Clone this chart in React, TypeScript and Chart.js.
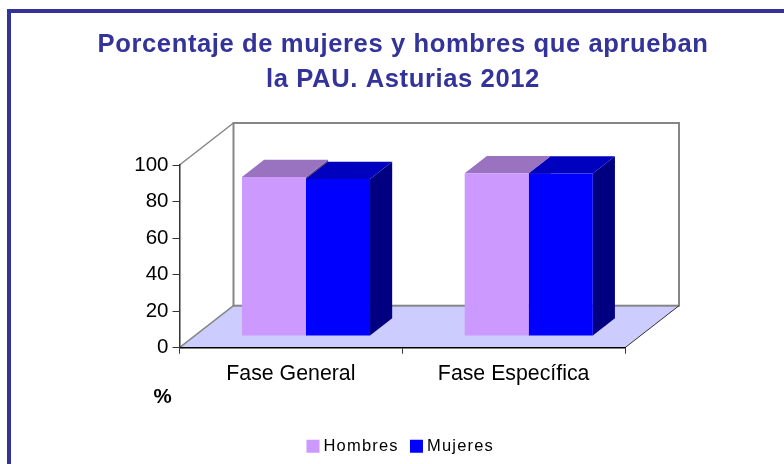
import React, { useEffect, useRef } from "react";
import { Chart, registerables } from "chart.js";

Chart.register(...registerables);

const categories = ["Fase General", "Fase Específica"];
const hombres = [87, 89];
const mujeres = [85.9, 88.9];
const titleLines = ["Porcentaje de mujeres y hombres que aprueban", "la PAU. Asturias 2012"];
const yUnit = "%";

const FONT = "'Liberation Sans', Arial, sans-serif";
const frontColors = ["#CC99FF", "#0000FF"];
const topColors = ["#9973BF", "#0000BF"];
const sideColors = ["#664C80", "#000080"];

// depth of the plot box, and where the bars stand inside it
const DEPTH_X = 54;
const DEPTH_Y = 42;
const BAR_START = 0.28;
const BAR_DEPTH = 0.41;

function poly(ctx: CanvasRenderingContext2D, pts: number[][], fill?: string) {
  ctx.beginPath();
  pts.forEach((p, i) => (i ? ctx.lineTo(p[0], p[1]) : ctx.moveTo(p[0], p[1])));
  ctx.closePath();
  ctx.fillStyle = fill as string;
  ctx.fill();
}

function spaced(box: any, ctx: any, spacing: string) {
  if (!box || box.__spaced) return;
  box.__spaced = true;
  const draw = box.draw.bind(box);
  box.draw = (...args: any[]) => {
    ctx.letterSpacing = spacing;
    draw(...args);
    ctx.letterSpacing = "0px";
  };
}

const depthPlugin = {
  id: "depth3d",
  afterLayout(chart: any) {
    const t = chart.titleBlock;
    if (t) {
      t.left = 0;
      t.right = 806;
    }
    const l = chart.legend;
    if (l) {
      l.left = 0;
      l.right = 788;
    }
  },
  beforeDraw(chart: any) {
    const { ctx } = chart;
    spaced(chart.titleBlock, ctx, "0.6px");
    spaced(chart.legend, ctx, "1.2px");
    const { left, right, top, bottom } = chart.chartArea;
    ctx.save();
    // floor
    poly(ctx, [[left, bottom], [right, bottom], [right + DEPTH_X, bottom - DEPTH_Y], [left + DEPTH_X, bottom - DEPTH_Y]], "#CCCCFF");
    // back wall
    ctx.strokeStyle = "#868686";
    ctx.lineWidth = 2;
    ctx.strokeRect(left + DEPTH_X, top - DEPTH_Y, right - left, bottom - top);
    // side wall edges
    ctx.lineWidth = 1.5;
    ctx.beginPath();
    ctx.moveTo(left, top);
    ctx.lineTo(left + DEPTH_X, top - DEPTH_Y);
    ctx.moveTo(left, bottom);
    ctx.lineTo(left + DEPTH_X, bottom - DEPTH_Y);
    ctx.stroke();
    // floor right edge
    ctx.strokeStyle = "#333333";
    ctx.lineWidth = 1;
    ctx.beginPath();
    ctx.moveTo(right, bottom);
    ctx.lineTo(right + DEPTH_X, bottom - DEPTH_Y);
    ctx.stroke();
    ctx.restore();
  },
  beforeDatasetsDraw(chart: any) {
    const { ctx } = chart;
    const sx = DEPTH_X * BAR_START;
    const sy = DEPTH_Y * BAR_START;
    const dx = DEPTH_X * BAR_DEPTH;
    const dy = DEPTH_Y * BAR_DEPTH;
    ctx.save();
    ctx.translate(sx, -sy);
    chart.data.datasets.forEach((_: any, di: number) => {
      chart.getDatasetMeta(di).data.forEach((bar: any) => {
        const l = bar.x - bar.width / 2;
        const r = bar.x + bar.width / 2;
        poly(ctx, [[r, bar.y], [r + dx, bar.y - dy], [r + dx, bar.base - dy], [r, bar.base]], sideColors[di]);
        poly(ctx, [[l, bar.y], [r, bar.y], [r + dx, bar.y - dy], [l + dx, bar.y - dy]], topColors[di]);
      });
    });
    ctx.restore();
    ctx.save();
    ctx.translate(sx, -sy);
  },
  afterDatasetsDraw(chart: any) {
    const { ctx, chartArea } = chart;
    ctx.restore();
    ctx.save();
    ctx.font = `bold 20.5px ${FONT}`;
    ctx.fillStyle = "#000000";
    ctx.textAlign = "center";
    ctx.textBaseline = "middle";
    ctx.fillText(yUnit, chartArea.left - 17, chartArea.bottom + 50);
    ctx.restore();
  },
};

export default function App() {
  const ref = useRef<HTMLCanvasElement>(null);
  useEffect(() => {
    const chart = new Chart(ref.current as HTMLCanvasElement, {
      type: "bar",
      data: {
        labels: categories,
        datasets: [
          { label: "Hombres", data: hombres, backgroundColor: frontColors[0], borderWidth: 0, pointStyle: "rect" },
          { label: "Mujeres", data: mujeres, backgroundColor: frontColors[1], borderWidth: 0, pointStyle: "rect" },
        ],
      },
      plugins: [depthPlugin],
      options: {
        animation: false,
        responsive: false,
        maintainAspectRatio: false,
        clip: false,
        categoryPercentage: 0.575,
        barPercentage: 1,
        layout: { padding: { top: 17, right: 159, left: 0, bottom: -0.5 } },
        plugins: {
          tooltip: { enabled: false },
          title: {
            display: true,
            text: titleLines,
            color: "#333399",
            font: { family: FONT, size: 25.6, weight: "bold", lineHeight: 35 / 25.6 },
            padding: { top: 10, bottom: 68 },
          },
          legend: {
            position: "bottom",
            labels: {
              usePointStyle: true,
              pointStyle: "rect",
              boxWidth: 4.5,
              boxHeight: 13,
              padding: 15.4,
              color: "#000000",
              font: { family: FONT, size: 16.5 },
            },
          },
        },
        scales: {
          x: {
            afterFit(s: any) {
              s.height = 74.9;
            },
            grid: { display: true, drawOnChartArea: false, drawTicks: true, tickLength: 6, tickColor: "#333333", offset: true },
            border: { color: "#000000", width: 1.5 },
            ticks: { color: "#000000", maxRotation: 0, padding: 8, font: { family: FONT, size: 21.3 } },
          },
          y: {
            min: 0,
            max: 100,
            afterFit(s: any) {
              s.width = 179.5;
            },
            grid: { display: true, drawOnChartArea: false, drawTicks: true, tickLength: 7, tickColor: "#333333" },
            border: { color: "#333333", width: 1.5 },
            ticks: { stepSize: 20, color: "#000000", padding: 4, font: { family: FONT, size: 20.5 } },
          },
        },
      } as any,
    });
    return () => chart.destroy();
  }, []);

  return (
    <div style={{ position: "fixed", left: 0, top: 0, width: 784, height: 464, overflow: "hidden", background: "#fff" }}>
      <canvas ref={ref} width={784} height={464} style={{ position: "absolute", left: 0, top: 0, display: "block" }} />
      <div
        style={{
          position: "absolute",
          left: 7,
          top: 9,
          width: 800,
          height: 500,
          borderLeft: "4px solid #333399",
          borderTop: "4px solid #333399",
          boxSizing: "border-box",
          pointerEvents: "none",
        }}
      />
    </div>
  );
}
